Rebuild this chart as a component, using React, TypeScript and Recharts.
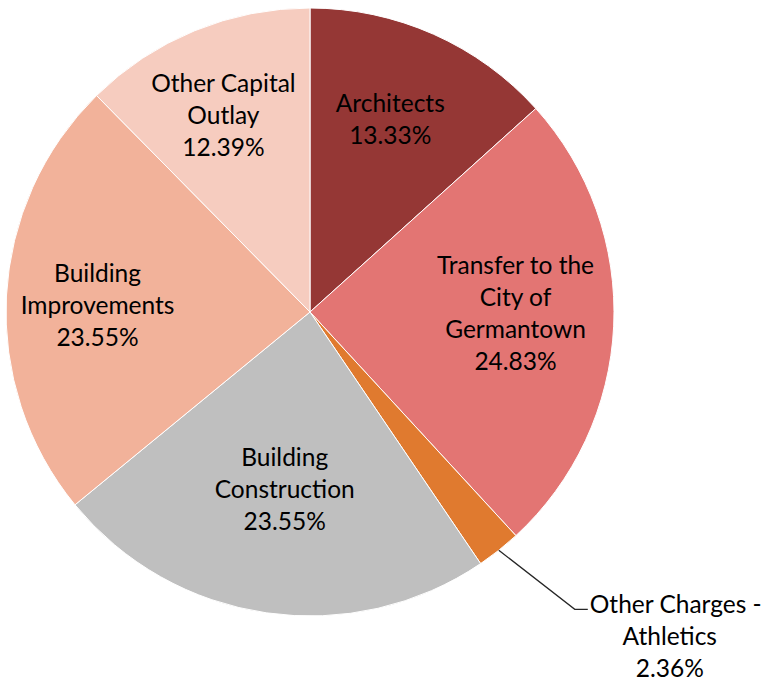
import React from "react";
import { PieChart, Pie, Cell } from "recharts";

// Capital spending breakdown, clockwise from 12 o'clock
const names = [
  "Architects",
  "Transfer to the City of Germantown",
  "Other Charges - Athletics",
  "Building Construction",
  "Building Improvements",
  "Other Capital Outlay",
];
const shares = [13.33, 24.83, 2.36, 23.55, 23.55, 12.39];
const labelLines = [
  ["Architects"],
  ["Transfer to the", "City of", "Germantown"],
  ["Other Charges -", "Athletics"],
  ["Building", "Construction"],
  ["Building", "Improvements"],
  ["Other Capital", "Outlay"],
];

const COLORS = ["#953735", "#E37573", "#E07A2F", "#BFBFBF", "#F2B29A", "#F6CCBF"];
const FONT = "Lato, 'Noto Sans', sans-serif";
const FONT_SIZE = 24.5;
const LINE_H = 32;
const RAD = Math.PI / 180;
// small hand nudges so labels sit where the original's best-fit put them
const NUDGE: Record<number, [number, number]> = {
  0: [-5, -2],
  1: [-4, -9],
  3: [0, 2],
  4: [-3, 4],
  5: [-7, -3],
};

const data = names.map((name, i) => ({ name, value: shares[i], idx: i }));

const SliceLabel = (props: any) => {
  const { cx, cy, midAngle, outerRadius, index } = props;
  const lines = [...labelLines[index], `${shares[index].toFixed(2)}%`];
  const cos = Math.cos(-midAngle * RAD);
  const sin = Math.sin(-midAngle * RAD);

  // the thin slice gets an outside label with a leader line
  if (shares[index] < 5) {
    const sx = cx + outerRadius * cos;
    const sy = cy + outerRadius * sin;
    const ex = sx + 76;
    const ey = sy + 59;
    return (
      <g>
        <polyline
          points={`${sx},${sy} ${ex},${ey} ${ex + 13},${ey}`}
          fill="none"
          stroke="#262626"
          strokeWidth={1.3}
        />
        {lines.map((t, i) => (
          <text
            key={i}
            x={i === 0 ? ex + 15 : ex + 95}
            y={ey - 6 + i * LINE_H}
            textAnchor={i === 0 ? "start" : "middle"}
            dominantBaseline="central"
            fontFamily={FONT}
            fontSize={FONT_SIZE}
            fill="#000"
          >
            {t}
          </text>
        ))}
      </g>
    );
  }

  const k = index === 3 ? 0.58 : 0.69;
  const [nx, ny] = NUDGE[index] || [0, 0];
  const x = cx + outerRadius * k * cos + nx;
  const y = cy + outerRadius * k * sin + ny;
  const top = y - ((lines.length - 1) * LINE_H) / 2;
  return (
    <g>
      {lines.map((t, i) => (
        <text
          key={i}
          x={x}
          y={top + i * LINE_H}
          textAnchor="middle"
          dominantBaseline="central"
          fontFamily={FONT}
          fontSize={FONT_SIZE}
          fill="#000"
        >
          {t}
        </text>
      ))}
    </g>
  );
};

export default function App() {
  return (
    <div style={{ position: "absolute", left: 0, top: 0, background: "#fff" }}>
      <PieChart width={776} height={682} margin={{ top: 0, right: 0, bottom: 0, left: 0 }}>
        <Pie
          data={data}
          dataKey="value"
          nameKey="name"
          cx={310}
          cy={312}
          outerRadius={304}
          startAngle={90}
          endAngle={-270}
          stroke="#fff"
          strokeWidth={1}
          label={SliceLabel}
          labelLine={false}
          isAnimationActive={false}
        >
          {data.map((d) => (
            <Cell key={d.name} fill={COLORS[d.idx]} />
          ))}
        </Pie>
      </PieChart>
    </div>
  );
}
